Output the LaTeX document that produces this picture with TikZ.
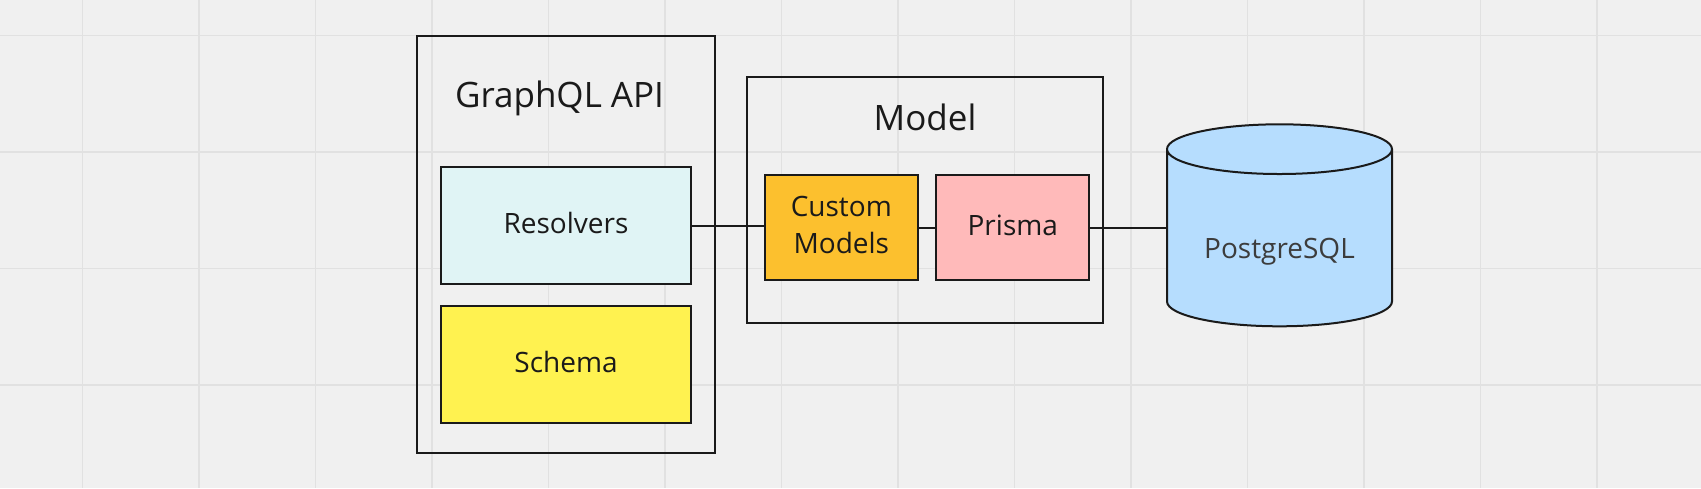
\documentclass[tikz,border=0pt]{standalone}
\usepackage{fontspec}
\setmainfont{Open Sans}
\usetikzlibrary{shapes.geometric,positioning}

\definecolor{boardbg}{HTML}{F0F0F0}
\definecolor{gridline}{HTML}{E1E1E1}
\definecolor{ink}{HTML}{1A1A1A}
\definecolor{resolverfill}{HTML}{E0F4F5}
\definecolor{schemafill}{HTML}{FFF250}
\definecolor{customfill}{HTML}{FCC02E}
\definecolor{prismafill}{HTML}{FFBABA}
\definecolor{dbfill}{HTML}{B6DDFE}

\begin{document}
\begin{tikzpicture}[x=1pt, y=-1pt, line width=2pt]
    \tikzstyle{group}=[draw=ink, rectangle, inner sep=0pt]
    \tikzstyle{title}=[text=ink, font=\fontsize{35}{40}\selectfont, inner sep=0pt]
    \tikzstyle{part}=[draw=ink, rectangle, text=ink, inner sep=0pt, align=center, text depth=5pt, font=\fontsize{28}{37.7}\selectfont]
    \tikzstyle{link}=[draw=ink, line width=2pt]
    % board
    \fill[boardbg] (0,0) rectangle (1701,488);
    \useasboundingbox (0,0) rectangle (1701,488);
    \foreach \gx in {0,...,13} \draw[gridline, line width=1.5pt] (82.7+116.5*\gx,0) -- (82.7+116.5*\gx,488);
    \foreach \gy in {0,...,3} \draw[gridline, line width=1.5pt] (0,35.3+116.5*\gy) -- (1701,35.3+116.5*\gy);
    % GraphQL API
    \node [group, minimum width=298pt, minimum height=417pt] (graphql) at (566,244.5) {};
    \node [title, anchor=base] (graphqltitle) at (559.5,107.3) {GraphQL API};
    \node [part, fill=resolverfill, minimum width=250pt, minimum height=117pt] (resolvers) at (566,225.5) {Resolvers};
    \node [part, fill=schemafill, minimum width=250pt, minimum height=117pt, below=19.5pt of resolvers] (schema) {Schema};
    % Model
    \node [group, minimum width=356pt, minimum height=246pt] (model) at (925,200) {};
    \node [title, anchor=base] (modeltitle) at (925,130) {Model};
    \node [part, fill=customfill, minimum width=153pt, minimum height=104.5pt] (custom) at (841.3,227.5) {Custom\\Models};
    \node [part, fill=prismafill, minimum width=153pt, minimum height=104.5pt, right=16.5pt of custom] (prisma) {Prisma};
    % database
    \node [part, cylinder, shape border rotate=90, aspect=0.33, fill=dbfill, text=ink!85, text height=41pt, text depth=0pt, minimum width=225pt, minimum height=202pt, anchor=south] (postgres) at (1279.5,327.3) {PostgreSQL};
    \draw [link] (resolvers.east) -- (resolvers.east -| custom.west);
    \draw [link] (custom) -- (prisma);
    \draw [link] (prisma.east) -- (prisma.east -| postgres.west);
\end{tikzpicture}
\end{document}
